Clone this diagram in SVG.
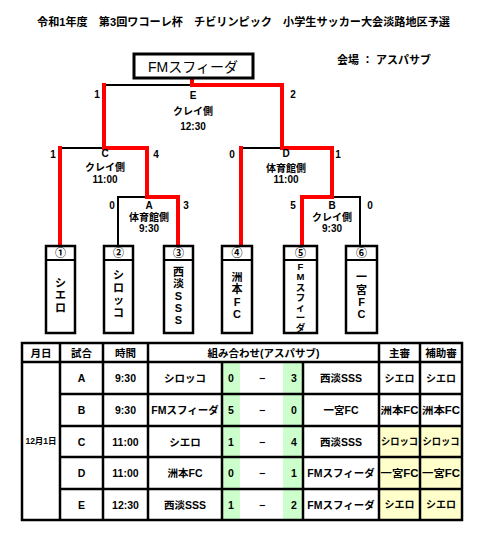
<svg xmlns="http://www.w3.org/2000/svg" width="496" height="539" viewBox="0 0 496 539">
<style>
text{font-family:"Liberation Sans","Noto Sans CJK JP",sans-serif;font-weight:bold;fill:#000;text-anchor:middle;dominant-baseline:central}
.s{font-size:10px}
.t{font-size:10.5px}
.r{font-size:10px}
.v{font-size:11px}
.f{font-size:9.5px}
.blk{fill:none;stroke:#000;stroke-width:2}
.red{fill:none;stroke:#ff0000;stroke-width:4;stroke-linejoin:miter;stroke-linecap:square}
.box{fill:#fff;stroke:#000;stroke-width:2.5}
.grid{stroke:#000;stroke-width:2.5;fill:none}
</style>
<rect width="496" height="539" fill="#fff"/>
<g id="title"><text x="243.5" y="22" style="font-size:11.5px" textLength="413" lengthAdjust="spacingAndGlyphs">令和1年度　第3回ワコーレ杯　チビリンピック　小学生サッカー大会淡路地区予選</text></g>
<g id="venue"><text x="384" y="60" style="font-size:11px">会場 ： アスパサブ</text></g>

<g id="connectors">
<path class="blk" d="M104 85H192M60 148H104M118 246V197H147M241 148H282M332 197H360V246"/>
<path class="red" d="M192 79V85H282V148H332V197H302V246"/>
<path class="red" d="M104 85V148H147V197H178V246"/>
<path class="red" d="M60 148V246M241 148V246"/>
</g>

<g id="winner"><rect x="134" y="54" width="119" height="24" fill="#fff" stroke="#000" stroke-width="3"/><text x="193" y="67" style="font-size:14px;font-weight:normal">FMスフィーダ</text></g>

<g id="match-E"><text class="s" x="97" y="94">1</text><text class="s" x="193" y="95">E</text><text class="s" x="193" y="111">クレイ側</text><text class="s" x="193" y="126">12:30</text><text class="s" x="293" y="94">2</text></g>
<g id="match-C"><text class="s" x="53" y="154">1</text><text class="s" x="105" y="153">C</text><text class="s" x="156" y="154">4</text><text class="s" x="105" y="167">クレイ側</text><text class="s" x="105" y="179">11:00</text></g>
<g id="match-A"><text class="s" x="112" y="205">0</text><text class="s" x="149" y="205">A</text><text class="s" x="186" y="205">3</text><text class="s" x="149" y="217">体育館側</text><text class="s" x="149" y="228">9:30</text></g>
<g id="match-D"><text class="s" x="232" y="154">0</text><text class="s" x="286" y="153">D</text><text class="s" x="338" y="154">1</text><text class="s" x="286" y="168">体育館側</text><text class="s" x="286" y="179">11:00</text></g>
<g id="match-B"><text class="s" x="293" y="205">5</text><text class="s" x="332" y="205">B</text><text class="s" x="370" y="205">0</text><text class="s" x="332" y="217">クレイ側</text><text class="s" x="332" y="228">9:30</text></g>

<g id="team1"><rect class="box" x="46" y="246" width="29" height="87"/><line class="blk" x1="46" y1="260" x2="75" y2="260"/><text class="v" x="60.5" y="253">①</text><text class="v" x="60.5" y="283">シ</text><text class="v" x="60.5" y="295">エ</text><text class="v" x="60.5" y="308">ロ</text></g>
<g id="team2"><rect class="box" x="104" y="246" width="29" height="87"/><line class="blk" x1="104" y1="260" x2="133" y2="260"/><text class="v" x="118.5" y="253">②</text><text class="v" x="118.5" y="275">シ</text><text class="v" x="118.5" y="288">ロ</text><text class="v" x="118.5" y="300">ッ</text><text class="v" x="118.5" y="313">コ</text></g>
<g id="team3"><rect class="box" x="164" y="246" width="29" height="87"/><line class="blk" x1="164" y1="260" x2="193" y2="260"/><text class="v" x="178.5" y="253">③</text><text class="v" x="178.5" y="272">西</text><text class="v" x="178.5" y="284">淡</text><text class="v" x="178.5" y="296">S</text><text class="v" x="178.5" y="308">S</text><text class="v" x="178.5" y="320">S</text></g>
<g id="team4"><rect class="box" x="222" y="246" width="30" height="87"/><line class="blk" x1="222" y1="260" x2="252" y2="260"/><text class="v" x="237" y="253">④</text><text class="v" x="237" y="277">洲</text><text class="v" x="237" y="289">本</text><text class="v" x="237" y="302">F</text><text class="v" x="237" y="314">C</text></g>
<g id="team5"><rect class="box" x="284" y="246" width="33" height="87"/><line class="blk" x1="284" y1="260" x2="317" y2="260"/><text class="v" x="300.5" y="253">⑤</text><text class="f" x="300.5" y="266">F</text><text class="f" x="300.5" y="276">M</text><text class="f" x="300.5" y="287">ス</text><text class="f" x="300.5" y="297.5">フ</text><text class="f" x="300.5" y="307.5">ィ</text><text class="f" x="300.5" y="317">ー</text><text class="f" x="300.5" y="327">ダ</text></g>
<g id="team6"><rect class="box" x="346" y="246" width="31" height="87"/><line class="blk" x1="346" y1="260" x2="377" y2="260"/><text class="v" x="361.5" y="253">⑥</text><text class="v" x="361.5" y="277">一</text><text class="v" x="361.5" y="290">宮</text><text class="v" x="361.5" y="302">F</text><text class="v" x="361.5" y="314">C</text></g>

<g id="table">
<rect x="22" y="343" width="440" height="177" fill="#fff"/>
<rect x="222" y="362" width="18" height="158" fill="#ccffcc"/>
<rect x="283" y="362" width="20" height="158" fill="#ccffcc"/>
<rect x="379" y="426" width="83" height="94" fill="#ffffcc"/>
<path class="grid" d="M60 343V520M103 343V520M148 343V520M379 343V520M420 343V520M222 362V520M303 362V520M22 362H462M60 394H462M60 426H462M60 457H462M60 489H462"/>
<rect class="grid" x="22" y="343" width="440" height="177" stroke-width="3"/>
<text class="t" x="41" y="352.5">月日</text><text class="t" x="81.5" y="352.5">試合</text><text class="t" x="125.5" y="352.5">時間</text><text class="t" x="263.5" y="352.5">組み合わせ(アスパサブ)</text><text class="t" x="399.5" y="352.5">主審</text><text class="t" x="441" y="352.5">補助審</text>
<text x="41" y="441" style="font-size:8.5px">12月1日</text>
<text class="t" x="81.5" y="378">A</text><text class="t" x="125.5" y="378">9:30</text><text class="t" x="185" y="378">シロッコ</text><text class="t" x="231" y="378">0</text><text class="t" x="262" y="378">−</text><text class="t" x="294" y="378">3</text><text class="t" x="341" y="378">西淡SSS</text><text class="r" x="399.5" y="378">シエロ</text><text class="r" x="441" y="378">シエロ</text>
<text class="t" x="81.5" y="410">B</text><text class="t" x="125.5" y="410">9:30</text><text class="t" x="185" y="410">FMスフィーダ</text><text class="t" x="231" y="410">5</text><text class="t" x="262" y="410">−</text><text class="t" x="294" y="410">0</text><text class="t" x="341" y="410">一宮FC</text><text class="r" x="399.5" y="410" textLength="38" lengthAdjust="spacingAndGlyphs">洲本FC</text><text class="r" x="441" y="410" textLength="38" lengthAdjust="spacingAndGlyphs">洲本FC</text>
<text class="t" x="81.5" y="441.5">C</text><text class="t" x="125.5" y="441.5">11:00</text><text class="t" x="185" y="441.5">シエロ</text><text class="t" x="231" y="441.5">1</text><text class="t" x="262" y="441.5">−</text><text class="t" x="294" y="441.5">4</text><text class="t" x="341" y="441.5">西淡SSS</text><text class="r" x="399.5" y="441.5" textLength="37" lengthAdjust="spacingAndGlyphs">シロッコ</text><text class="r" x="441" y="441.5" textLength="37" lengthAdjust="spacingAndGlyphs">シロッコ</text>
<text class="t" x="81.5" y="473">D</text><text class="t" x="125.5" y="473">11:00</text><text class="t" x="185" y="473">洲本FC</text><text class="t" x="231" y="473">0</text><text class="t" x="262" y="473">−</text><text class="t" x="294" y="473">1</text><text class="t" x="341" y="473">FMスフィーダ</text><text class="r" x="399.5" y="473" textLength="38" lengthAdjust="spacingAndGlyphs">一宮FC</text><text class="r" x="441" y="473" textLength="38" lengthAdjust="spacingAndGlyphs">一宮FC</text>
<text class="t" x="81.5" y="504.5">E</text><text class="t" x="125.5" y="504.5">12:30</text><text class="t" x="185" y="504.5">西淡SSS</text><text class="t" x="231" y="504.5">1</text><text class="t" x="262" y="504.5">−</text><text class="t" x="294" y="504.5">2</text><text class="t" x="341" y="504.5">FMスフィーダ</text><text class="r" x="399.5" y="504.5">シエロ</text><text class="r" x="441" y="504.5">シエロ</text>
</g>
</svg>
